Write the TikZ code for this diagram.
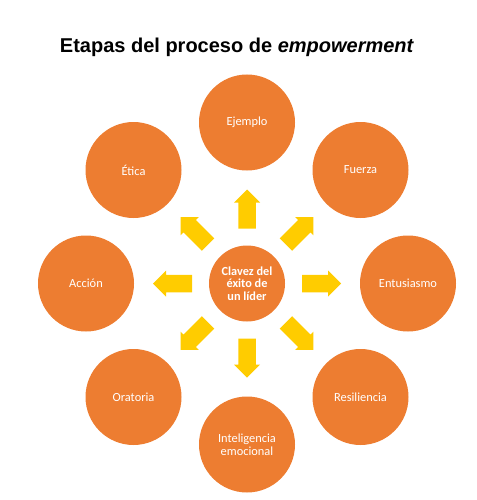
\documentclass[tikz,border=0pt]{standalone}
\usepackage{fontspec}
\setmainfont{Carlito}
\newfontfamily\titlefont{Liberation Sans}
\definecolor{orng}{HTML}{ED7D31}
\definecolor{ylw}{HTML}{FFCC00}
\begin{document}
\begin{tikzpicture}[x=1pt,y=-1pt,
  petal/.style={circle,fill=orng,minimum size=96pt,inner sep=0pt,text=white,
    align=center,font=\fontsize{12.4}{13.5}\selectfont},
  hub/.style={circle,fill=orng,minimum size=76pt,inner sep=0pt,text=white,
    align=center,font=\bfseries\fontsize{12.3}{12.6}\selectfont},
  blockarrow/.style={fill=ylw}]
\useasboundingbox (0,0) rectangle (476,500);
\node[font=\titlefont\bfseries\fontsize{20}{22}\selectfont] (title) at (237,47)
  {Etapas del proceso de \textit{empowerment}};
\node[hub] (c) at (247,283.5) {Clavez del\\éxito de\\un líder};
\node[petal] (ejemplo) at (247,122.5) {Ejemplo};
\node[petal] (fuerza) at (360.5,170) {Fuerza};
\node[petal] (entusiasmo) at (408,283.5) {Entusiasmo};
\node[petal] (resiliencia) at (360.5,397) {Resiliencia};
\node[petal] (inteligencia) at (247,444.5) {Inteligencia\\emocional};
\node[petal] (oratoria) at (133.5,397) {Oratoria};
\node[petal] (accion) at (86,283.5) {Acción};
\node[petal] (etica) at (133.5,170) {Ética};
\foreach \a in {0,45,...,315}
  \fill[blockarrow,shift={(c.center)},rotate=\a]
    (55,-8.75) -- (81,-8.75) -- (81,-13) -- (94,0) -- (81,13) -- (81,8.75) -- (55,8.75) -- cycle;
\end{tikzpicture}
\end{document}
